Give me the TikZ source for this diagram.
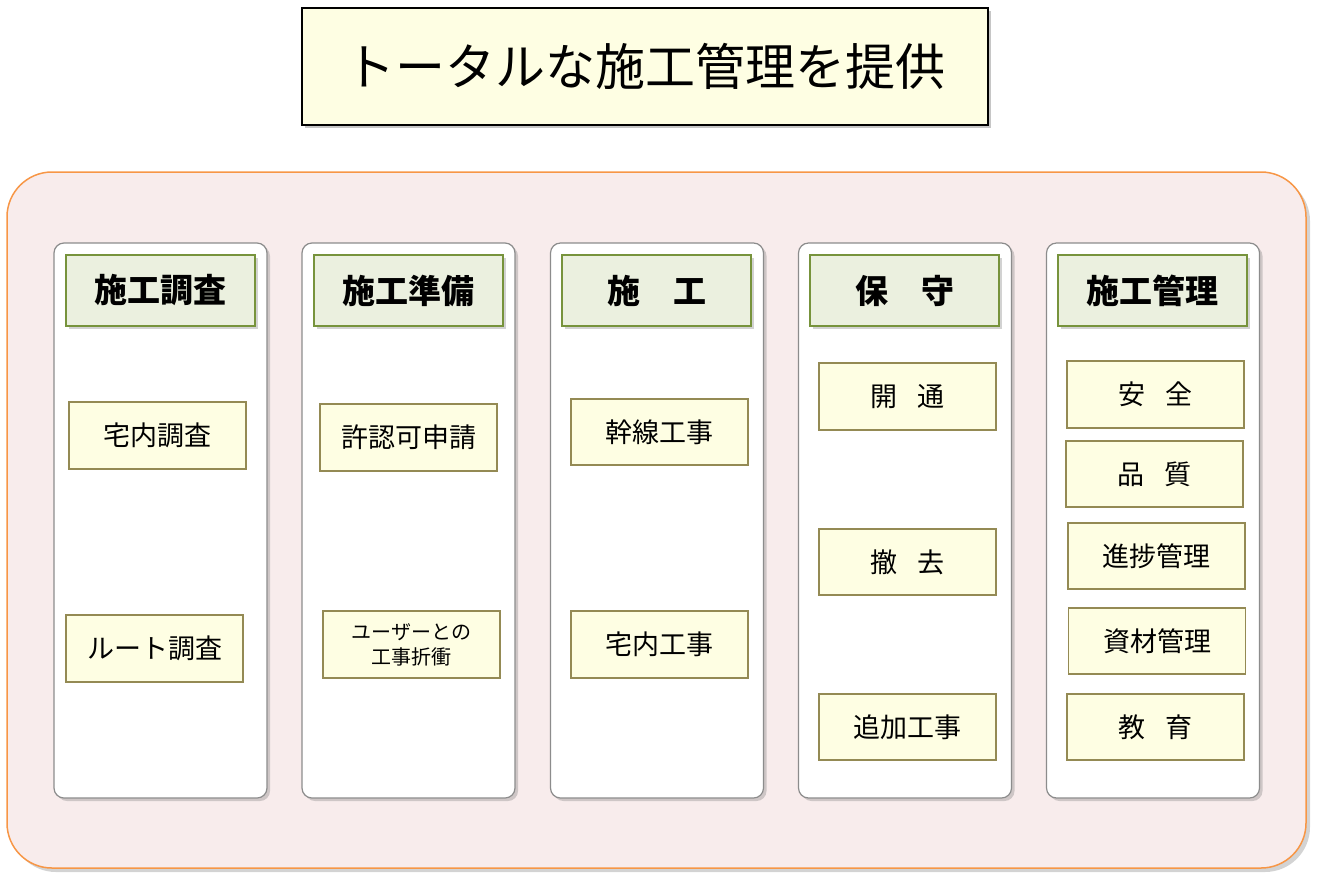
\documentclass[tikz,border=0pt]{standalone}
\usepackage{fontspec}
\setmainfont{Noto Sans CJK JP}
\usetikzlibrary{shadows}
\definecolor{ltyellow}{HTML}{FEFEE3}
\definecolor{olive}{HTML}{948A54}
\definecolor{hdrgreen}{HTML}{77933C}
\definecolor{hdrfill}{HTML}{EBF0DF}
\definecolor{outerfill}{HTML}{F8ECEC}
\definecolor{outerline}{HTML}{F79646}
\newcommand{\gapsp}{\hspace{0.75em}}
\tikzset{
  titlebox/.style={draw=black, line width=1.2pt, fill=ltyellow, inner sep=0pt,
    drop shadow={shadow xshift=3pt, shadow yshift=-3pt, opacity=0.45},
    font=\fontsize{50}{56}\selectfont},
  colbox/.style={draw=gray!90, line width=1.2pt, fill=white, rounded corners=10pt, inner sep=0pt,
    drop shadow={shadow xshift=3pt, shadow yshift=-3pt, opacity=0.35}},
  hdrbox/.style={draw=hdrgreen, line width=1.5pt, fill=hdrfill, inner sep=0pt,
    minimum width=189pt, minimum height=71pt,
    drop shadow={shadow xshift=3pt, shadow yshift=-3pt, opacity=0.35},
    font=\fontsize{33}{36}\selectfont\bfseries},
  itembox/.style={draw=olive, line width=1.2pt, fill=ltyellow, inner sep=0pt,
    minimum width=177pt, minimum height=67pt, align=center,
    font=\fontsize{27}{30}\selectfont},
  smallitem/.style={itembox, font=\fontsize{20}{25}\selectfont}
}
\begin{document}
\begin{tikzpicture}[x=1pt,y=-1pt]
\useasboundingbox (0,0) rectangle (1321,884);
% outer frame
\node[draw=outerline, line width=1.5pt, fill=outerfill, rounded corners=45pt, inner sep=0pt,
  minimum width=1299pt, minimum height=696pt,
  drop shadow={shadow xshift=4pt, shadow yshift=-4pt, opacity=0.35}] (outer) at (656.5,520) {};
% title
\node[titlebox, minimum width=686pt, minimum height=117pt] (title) at (645,66.5) {トータルな施工管理を提供};
% columns
\foreach \n/\x in {c1/160.5, c2/408.5, c3/657, c4/905, c5/1153}{
  \node[colbox, minimum width=213pt, minimum height=555pt] (\n) at (\x,520.5) {};
}
% headers
\node[hdrbox] (h1) at (160.5,290.5) {施工調査};
\node[hdrbox] (h2) at (408.5,290.5) {施工準備};
\node[hdrbox] (h3) at (656.5,290.5) {施　工};
\node[hdrbox] (h4) at (904.5,290.5) {保　守};
\node[hdrbox] (h5) at (1152.5,290.5) {施工管理};
% column 1
\node[itembox] (a1) at (157.5,435.5) {宅内調査};
\node[itembox] (a2) at (154.5,648.5) {ルート調査};
% column 2
\node[itembox] (b1) at (408.5,437.5) {許認可申請};
\node[smallitem] (b2) at (411.5,644.5) {ユーザーとの\\工事折衝};
% column 3
\node[itembox, minimum height=66pt] (d1) at (659.5,432) {幹線工事};
\node[itembox] (d2) at (659.5,644.5) {宅内工事};
% column 4
\node[itembox] (e1) at (907.5,396.5) {開\gapsp 通};
\node[itembox, minimum height=66pt] (e2) at (907.5,562) {撤\gapsp 去};
\node[itembox, minimum height=66pt] (e3) at (907.5,727) {追加工事};
% column 5
\node[itembox] (f1) at (1155.5,394.5) {安\gapsp 全};
\node[itembox, minimum height=66pt] (f2) at (1154.5,474) {品\gapsp 質};
\node[itembox, minimum height=66pt] (f3) at (1156.5,556) {進捗管理};
\node[itembox, minimum height=66pt] (f4) at (1157,641) {資材管理};
\node[itembox, minimum height=66pt] (f5) at (1155.5,727) {教\gapsp 育};
\end{tikzpicture}
\end{document}
